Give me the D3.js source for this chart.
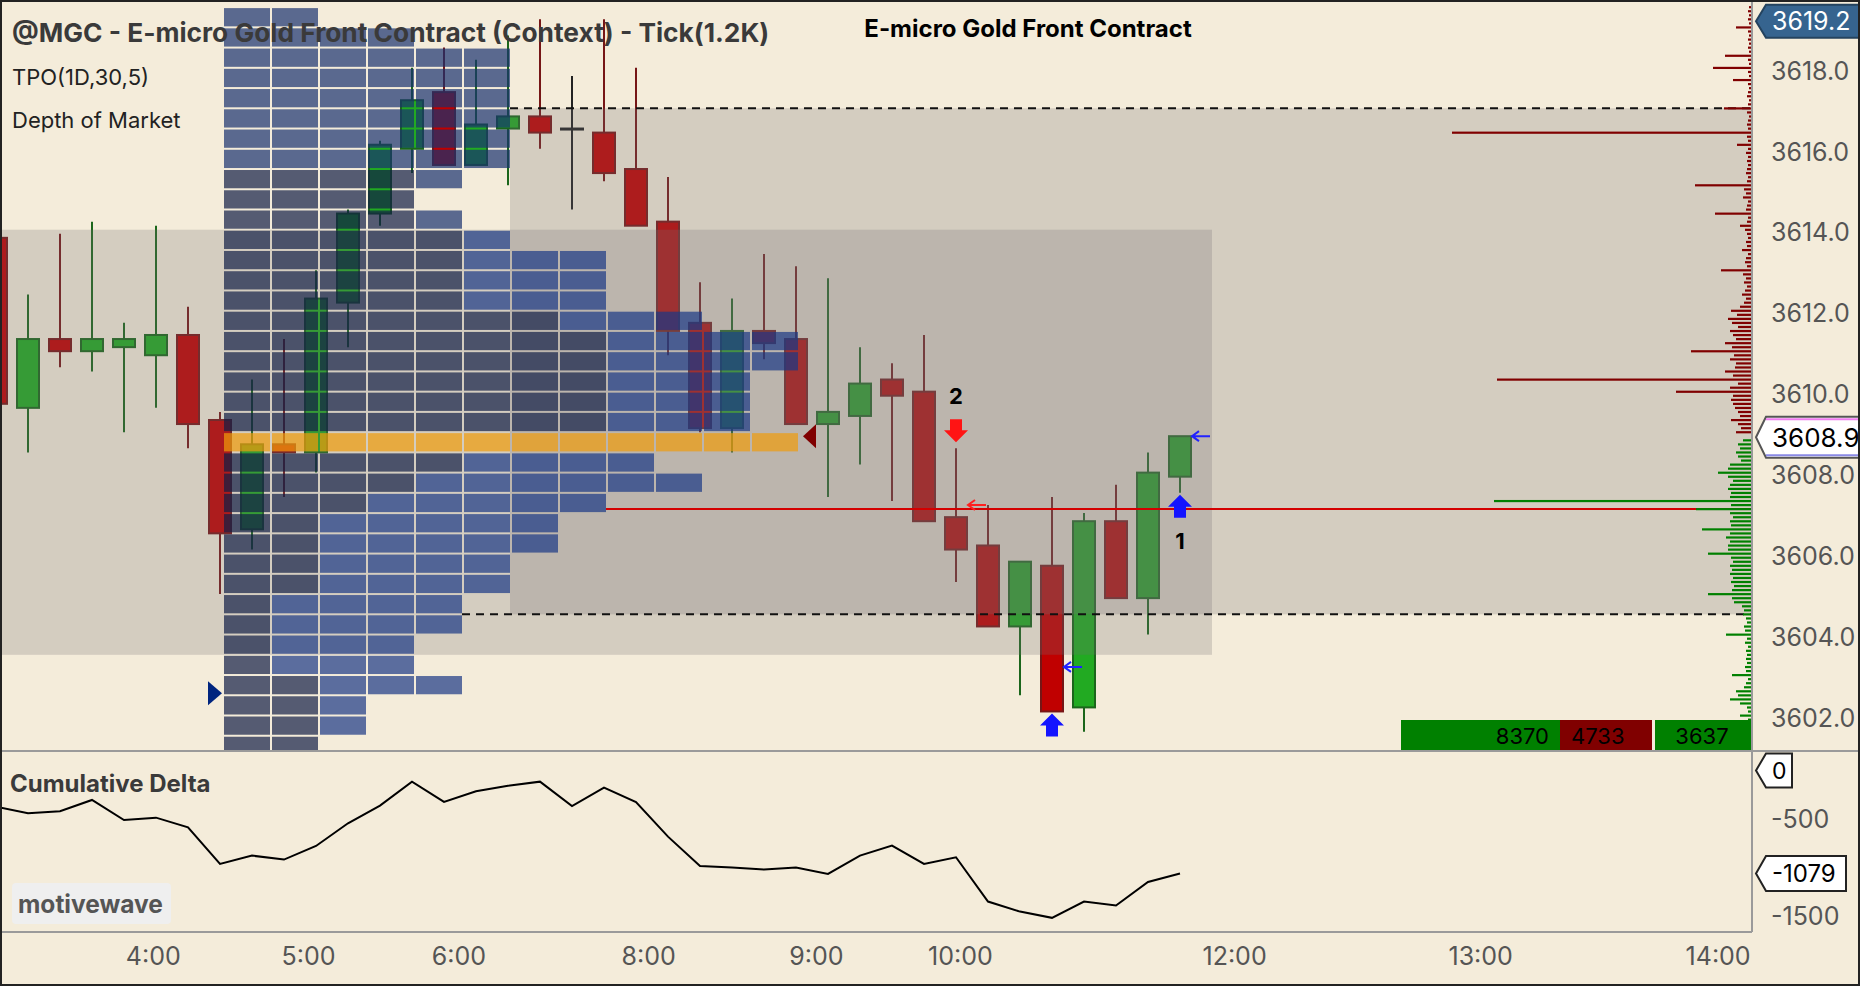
<!DOCTYPE html>
<html>
<head>
<meta charset="utf-8">
<script src="https://cdn.jsdelivr.net/npm/d3@7"></script>
<style>
  html, body { margin: 0; padding: 0; background: #f4ecda; overflow: hidden; }
  svg { display: block; font-family: Inter, "Noto Sans", sans-serif; }
</style>
</head>
<body>
<div id="chart"></div>
<script>
// ---- price bars (tick chart, 1.2K ticks per bar) ----
const opens  = [3613.8, 3609.6, 3611.3, 3611.0, 3611.1, 3610.9, 3611.4, 3609.3, 3606.6, 3608.7,
                3608.5, 3612.2, 3614.4, 3616.0, 3617.4, 3615.6, 3616.5, 3616.8, 3616.5, 3616.4,
                3615.5, 3614.2, 3611.7, 3609.1, 3611.5, 3611.3, 3609.2, 3609.4, 3610.3, 3610.0,
                3606.9, 3606.2, 3604.2, 3605.7, 3602.2, 3606.8, 3604.9, 3607.9];
const highs  = [3614.0, 3612.4, 3613.9, 3614.2, 3611.7, 3614.1, 3612.1, 3609.5, 3610.3, 3611.3,
                3613.0, 3614.5, 3616.2, 3618.0, 3618.5, 3618.2, 3618.8, 3619.2, 3617.8, 3619.2,
                3618.0, 3615.3, 3612.7, 3612.3, 3613.4, 3613.1, 3612.8, 3611.1, 3610.7, 3611.4,
                3608.6, 3607.2, 3605.8, 3607.4, 3607.0, 3607.7, 3608.5, 3608.9];
const lows   = [3609.4, 3608.5, 3610.6, 3610.5, 3609.0, 3609.6, 3608.6, 3605.0, 3606.1, 3607.4,
                3608.0, 3611.1, 3614.1, 3615.4, 3615.6, 3615.6, 3615.1, 3616.0, 3614.5, 3615.2,
                3614.1, 3610.9, 3609.0, 3608.5, 3610.8, 3609.2, 3607.4, 3608.2, 3607.3, 3606.8,
                3605.3, 3604.2, 3602.5, 3602.1, 3601.6, 3604.9, 3604.0, 3607.5];
const closes = [3609.7, 3611.3, 3611.0, 3611.3, 3611.3, 3611.4, 3609.2, 3606.5, 3608.7, 3608.5,
                3612.3, 3614.4, 3616.1, 3617.2, 3615.6, 3616.6, 3616.8, 3616.4, 3616.5, 3615.4,
                3614.1, 3611.5, 3609.1, 3611.5, 3611.2, 3609.2, 3609.5, 3610.2, 3609.9, 3606.8,
                3606.1, 3604.2, 3605.8, 3602.1, 3606.8, 3604.9, 3608.0, 3608.9];

// cumulative delta, one value per bar
const deltaValues = [-386, -455, -434, -316, -524, -500, -600, -980, -894, -935,
                     -794, -558, -375, -126, -337, -226, -168, -126, -379, -188,
                     -337, -697, -1001, -1018, -1039, -1018, -1084, -894, -790, -980,
                     -911, -1371, -1475, -1540, -1371, -1412, -1167, -1079];

// TPO(1D,30,5): one string per 0.5 row from the top, one letter per block
// e = early periods, o = overnight, d = day session, p = point of control
const tpoTop = 3619.5;
const tpoRows = [
  "ee", "eeee", "eeeeee", "eeeeee", "eeeeee", "eeeeee", "eeeeee", "eeeeee",
  "ooooe", "oooo", "ooooe", "oooood",
  "oooooddd", "oooooddd", "oooooddd", "oooooooddd",
  "oooooooodddd", "oooooooodddd", "ooooooooddd", "ooooooooddd", "ooooooooddd",
  "pppppppppppp",
  "ooooodddd", "oooodddddd", "oooddddd", "ooddddd", "ooddddd", "oodddd", "oodddd",
  "odddd", "odddd", "oddd", "oddd", "ooddd", "ood", "ood", "oo"
];

// value area / reference range / key level
const vaHigh = 3617.0, vaLow = 3604.5;
const refHigh = 3614.0, refLow = 3603.5;
const keyLevel = 3607.1;

// depth of market (sizes per 0.1 tick)
const askStart = 3609.0;
const askSizes = [16, 11, 14, 21, 12, 14, 17, 19, 21, 19,
                  76, 22, 14, 255, 19, 27, 17, 16, 22, 18,
                  61, 20, 27, 16, 19, 22, 14, 20, 24, 15,
                  21, 12, 8, 6, 10, 7, 5, 8, 6, 9,
                  31, 5, 7, 6, 4, 10, 5, 6, 4, 5,
                  7, 12, 5, 4, 37, 6, 5, 4, 9, 6,
                  8, 57, 5, 4, 6, 5, 4, 5, 4, 6,
                  4, 15, 4, 5, 300, 4, 5, 4, 3, 5,
                  28, 4, 3, 5, 4, 3, 4, 19, 3, 4,
                  39, 3, 4, 27, 3, 4, 3, 4, 3, 4,
                  16, 3, 4, 3, 4, 3];
const bidStart = 3608.8;
const bidSizes = [9, 14, 12, 16, 14, 11, 22, 24, 34, 24,
                  19, 22, 24, 21, 22, 258, 21, 56, 22, 19,
                  22, 21, 50, 22, 26, 22, 24, 24, 44, 21,
                  19, 22, 20, 22, 19, 21, 18, 20, 44, 20,
                  18, 10, 8, 9, 6, 5, 8, 7, 26, 5,
                  7, 4, 6, 5, 6, 5, 7, 6, 20, 4,
                  6, 8, 16, 14, 22, 12, 5, 4, 12, 4];
const domTotals = [8370, 4733, 3637];

// signals and fill marks
const signalBars = [30, 33, 37];
const signalTypes = ["sell", "buy", "buy"];
const signalLabels = ["2", "", "1"];
const fillBars = [30, 33, 37];
const fillPrices = [3607.2, 3603.2, 3608.9];
const fillColors = ["#ff2020", "#2222ff", "#2222ff"];

// axes
const priceTicks = [3602, 3604, 3606, 3608, 3610, 3612, 3614, 3616, 3618];
const deltaTicks = [-500, -1000, -1500];
const timeLabels = ["4:00", "5:00", "6:00", "8:00", "9:00", "10:00", "12:00", "13:00", "14:00"];
const timeBars = [4.9, 9.75, 14.45, 20.38, 25.62, 30.12, 38.69, 46.38, 53.8];

const lastPrice = 3608.9, sessionHigh = 3619.2;

// ---- layout ----
const W = 1860, H = 986;
const axisX = 1752;
const priceBottom = 751;
const deltaBottom = 932;
const cream = "#f4ecda";

const bars = d3.range(opens.length);
const x = d3.scaleLinear().domain([0, 55]).range([-4, 1756]);
const y = d3.scaleLinear().domain([vaHigh, vaLow]).range([108.3, 614.3]);
const yd = d3.scaleLinear().domain([0, -1500]).range([769.5, 914]);
const domLen = d3.scaleLinear().domain([0, 300]).range([0, 300]);

const tpoStartBar = 7.125, tpoColBars = 1.5, tpoTick = 0.5;
const tpoColors = {
  e: "rgb(24,50,111)", o: "rgb(17,30,70)", d: "rgb(25,56,132)", p: "rgb(240,155,10)"
};

const svg = d3.select("#chart").append("svg")
  .attr("width", W).attr("height", H);

svg.append("rect").attr("width", W).attr("height", H).attr("fill", cream);

const defs = svg.append("defs");
defs.append("clipPath").attr("id", "clipPrice")
  .append("rect").attr("width", axisX).attr("height", priceBottom);
defs.append("clipPath").attr("id", "clipDelta")
  .append("rect").attr("y", priceBottom).attr("width", axisX).attr("height", deltaBottom - priceBottom);

const price = svg.append("g").attr("clip-path", "url(#clipPrice)");

// tpo helpers
const tpoRowOf = p => Math.floor((tpoTop - p) / tpoTick);
const tpoEnd = p => x(tpoStartBar + tpoRows[tpoRowOf(p)].length * tpoColBars) - 2;

// candles
const candles = price.append("g");
bars.forEach(i => {
  const o = opens[i], c = closes[i];
  const flat = o === c, up = c > o;
  const fill = flat ? "#222" : up ? "#22aa22" : "#c00000";
  const edge = flat ? "#222" : up ? "#1b661b" : "#761616";
  candles.append("line")
    .attr("x1", x(i)).attr("x2", x(i))
    .attr("y1", y(highs[i])).attr("y2", y(lows[i]))
    .attr("stroke", edge).attr("stroke-width", 2);
  candles.append("rect")
    .attr("x", x(i) - 11).attr("width", 22)
    .attr("y", y(Math.max(o, c)))
    .attr("height", Math.max(1, Math.abs(y(o) - y(c))))
    .attr("fill", fill).attr("stroke", edge).attr("stroke-width", 2);
});

// shaded ranges (drawn over candles, semi transparent)
price.append("rect")
  .attr("x", x(-1)).attr("width", x(38) - x(-1))
  .attr("y", y(refHigh)).attr("height", y(refLow) - y(refHigh))
  .attr("fill", "rgb(116,112,114)").attr("fill-opacity", 0.25);
price.append("rect")
  .attr("x", tpoEnd(vaHigh)).attr("width", axisX - tpoEnd(vaHigh))
  .attr("y", y(vaHigh)).attr("height", y(vaLow) - y(vaHigh))
  .attr("fill", "rgb(116,112,114)").attr("fill-opacity", 0.25);

// tpo blocks
const tpo = price.append("g");
tpoRows.forEach((row, r) => {
  const top = tpoTop - r * tpoTick;
  row.split("").forEach((letter, k) => {
    tpo.append("rect")
      .attr("x", x(tpoStartBar + k * tpoColBars))
      .attr("width", x(tpoColBars) - x(0) - 2)
      .attr("y", y(top) + 1)
      .attr("height", y(top - tpoTick) - y(top) - 2)
      .attr("fill", tpoColors[letter])
      .attr("fill-opacity", 0.7);
  });
});

// tpo markers
const pocPrice = tpoTop - tpoRows.findIndex(r => r[0] === "p") * tpoTick - tpoTick / 2;
const tipL = tpoEnd(pocPrice) + 5, ty = y(lastPrice);
price.append("path")
  .attr("d", `M${tipL},${ty} L${tipL + 13},${ty - 12} L${tipL + 13},${ty + 12} Z`)
  .attr("fill", "#800000");
const tipR = x(tpoStartBar) - 2, ty2 = y(3602.55);
price.append("path")
  .attr("d", `M${tipR},${ty2} L${tipR - 14},${ty2 - 12} L${tipR - 14},${ty2 + 12} Z`)
  .attr("fill", "#00257f");

// value area lines
[vaHigh, vaLow].forEach(p => {
  price.append("line")
    .attr("x1", tpoEnd(p)).attr("x2", axisX)
    .attr("y1", y(p)).attr("y2", y(p))
    .attr("stroke", "#111").attr("stroke-width", 2)
    .attr("stroke-dasharray", "8,6");
});
price.append("line")
  .attr("x1", tpoEnd(keyLevel)).attr("x2", axisX)
  .attr("y1", y(keyLevel)).attr("y2", y(keyLevel))
  .attr("stroke", "#d40000").attr("stroke-width", 2);

// depth of market
const dom = price.append("g");
askSizes.forEach((s, i) => {
  const p = askStart + i * 0.1;
  dom.append("rect")
    .attr("x", axisX - domLen(s)).attr("width", domLen(s))
    .attr("y", y(p) - 1).attr("height", 2.2)
    .attr("fill", "#800000");
});
bidSizes.forEach((s, i) => {
  const p = bidStart - i * 0.1;
  dom.append("rect")
    .attr("x", axisX - domLen(s)).attr("width", domLen(s))
    .attr("y", y(p) - 1).attr("height", 2.2)
    .attr("fill", "#008000");
});

// dom totals
const totals = svg.append("g");
const totalBoxes = [
  { x0: 1401, x1: 1560, fill: "#008000", anchor: "end", tx: 1549 },
  { x0: 1560, x1: 1652, fill: "#800000", anchor: "start", tx: 1571 },
  { x0: 1655, x1: axisX, fill: "#008000", anchor: "middle", tx: 1702 }
];
totalBoxes.forEach((b, i) => {
  totals.append("rect").attr("x", b.x0).attr("width", b.x1 - b.x0)
    .attr("y", 720).attr("height", priceBottom - 720).attr("fill", b.fill);
  totals.append("text").attr("x", b.tx).attr("y", 744)
    .attr("text-anchor", b.anchor).attr("fill", "#000")
    .style("font-size", "22px")
    .text(domTotals[i]);
});

// signals
const sig = svg.append("g");
signalBars.forEach((b, i) => {
  const cx = x(b);
  if (signalTypes[i] === "sell") {
    const tip = y(highs[b]) - 6;
    sig.append("path")
      .attr("d", `M${cx},${tip} L${cx - 12},${tip - 12} L${cx - 6},${tip - 12} L${cx - 6},${tip - 23} L${cx + 6},${tip - 23} L${cx + 6},${tip - 12} L${cx + 12},${tip - 12} Z`)
      .attr("fill", "#ff1414");
    sig.append("text").attr("x", cx).attr("y", tip - 38)
      .attr("text-anchor", "middle").style("font-size", "22px").style("font-weight", 700)
      .attr("fill", "#000").text(signalLabels[i]);
  } else {
    const tip = y(lows[b]) + 2;
    sig.append("path")
      .attr("d", `M${cx},${tip} L${cx - 12},${tip + 12} L${cx - 6},${tip + 12} L${cx - 6},${tip + 23} L${cx + 6},${tip + 23} L${cx + 6},${tip + 12} L${cx + 12},${tip + 12} Z`)
      .attr("fill", "#1414ff");
    sig.append("text").attr("x", cx).attr("y", tip + 54)
      .attr("text-anchor", "middle").style("font-size", "22px").style("font-weight", 700)
      .attr("fill", "#000").text(signalLabels[i]);
  }
});
fillBars.forEach((b, i) => {
  const x0 = x(b) + 12, fy = y(fillPrices[i]);
  sig.append("path")
    .attr("d", `M${x0 + 18},${fy} L${x0},${fy} M${x0 + 7},${fy - 5} L${x0},${fy} L${x0 + 7},${fy + 5}`)
    .attr("fill", "none").attr("stroke", fillColors[i]).attr("stroke-width", 2);
});

// cumulative delta
const delta = svg.append("g").attr("clip-path", "url(#clipDelta)");
delta.append("path")
  .datum(deltaValues)
  .attr("d", d3.line().x((d, i) => x(i)).y(d => yd(d)))
  .attr("fill", "none").attr("stroke", "#000").attr("stroke-width", 2);

// panel frames
svg.append("line").attr("x1", 0).attr("x2", W).attr("y1", priceBottom).attr("y2", priceBottom)
  .attr("stroke", "#9a9a9a").attr("stroke-width", 2);
svg.append("line").attr("x1", 0).attr("x2", axisX).attr("y1", deltaBottom).attr("y2", deltaBottom)
  .attr("stroke", "#9a9a9a").attr("stroke-width", 2);
svg.append("line").attr("x1", axisX).attr("x2", axisX).attr("y1", 0).attr("y2", deltaBottom)
  .attr("stroke", "#9a9a9a").attr("stroke-width", 2);

// axes
const styleAxis = g => {
  g.select(".domain").remove();
  g.selectAll("text").attr("fill", "#555").style("font-size", "25px")
    .style("font-family", "Inter, 'Noto Sans', sans-serif");
};
svg.append("g").attr("transform", `translate(${axisX},0)`)
  .call(d3.axisRight(y).tickValues(priceTicks).tickFormat(d3.format(".1f")).tickSize(0).tickPadding(19))
  .call(styleAxis)
  .selectAll("text").attr("dy", "0.45em");
svg.append("g").attr("transform", `translate(${axisX},0)`)
  .call(d3.axisRight(yd).tickValues(deltaTicks).tickSize(0).tickPadding(19)
    .tickFormat(d => d3.format("d")(d).replace("\u2212", "-")))
  .call(styleAxis)
  .selectAll("text").attr("dy", "0.4em");
svg.append("g").attr("transform", `translate(0,${deltaBottom})`)
  .call(d3.axisBottom(x).tickValues(timeBars).tickFormat((d, i) => timeLabels[i]).tickSize(0).tickPadding(15))
  .call(styleAxis);

// right axis value flags
const flag = (cy, h, w, fill, stroke, txt, color, size) => {
  const g = svg.append("g");
  const top = cy - h / 2, bot = cy + h / 2;
  g.append("path")
    .attr("d", `M${axisX + 4},${cy} L${axisX + 14},${top} L${axisX + w},${top} L${axisX + w},${bot} L${axisX + 14},${bot} Z`)
    .attr("fill", fill).attr("stroke", stroke).attr("stroke-width", 2);
  g.append("text").attr("x", axisX + 20).attr("y", cy).attr("dy", "0.36em")
    .attr("fill", color).style("font-size", size + "px").text(txt);
  return g;
};
flag(y(sessionHigh) + 2, 33, 110, "#36648f", "#24435f", d3.format(".1f")(sessionHigh), "#fff", 25);
const lp = flag(y(lastPrice) + 1, 41, 110, "#fff", "#555", d3.format(".1f")(lastPrice), "#000", 26);
lp.append("line").attr("x1", axisX + 14).attr("x2", W).attr("y1", y(lastPrice) - 17).attr("y2", y(lastPrice) - 17)
  .attr("stroke", "#f07cf0").attr("stroke-width", 2);
lp.append("line").attr("x1", axisX + 14).attr("x2", W).attr("y1", y(lastPrice) + 19).attr("y2", y(lastPrice) + 19)
  .attr("stroke", "#8a8ae6").attr("stroke-width", 2);
flag(yd(0) + 1, 34, 40, "#fff", "#222", "0", "#000", 23);
flag(yd(deltaValues[deltaValues.length - 1]), 35, 94, "#fff", "#222",
  d3.format("d")(deltaValues[deltaValues.length - 1]).replace("\u2212", "-"), "#000", 24);

// titles
svg.append("text").attr("x", 12).attr("y", 42)
  .style("font-size", "26.3px").style("font-weight", 700).attr("fill", "#3a3a3a")
  .text("@MGC - E-micro Gold Front Contract (Context) - Tick(1.2K)");
svg.append("text").attr("x", 1028).attr("y", 37).attr("text-anchor", "middle")
  .style("font-size", "24px").style("font-weight", 700).attr("fill", "#000")
  .text("E-micro Gold Front Contract");
svg.append("text").attr("x", 12).attr("y", 85)
  .style("font-size", "22px").attr("fill", "#222").text("TPO(1D,30,5)");
svg.append("text").attr("x", 12).attr("y", 128)
  .style("font-size", "22px").attr("fill", "#222").text("Depth of Market");
svg.append("text").attr("x", 10).attr("y", 792)
  .style("font-size", "24px").style("font-weight", 700).attr("fill", "#3a3a3a").text("Cumulative Delta");

// watermark
svg.append("rect").attr("x", 12).attr("y", 883).attr("width", 159).attr("height", 41)
  .attr("rx", 4).attr("fill", "#efefef");
svg.append("text").attr("x", 18).attr("y", 913)
  .style("font-size", "24.5px").style("font-weight", 700).attr("fill", "#555").text("motivewave");

// outer frame
svg.append("rect").attr("x", 1).attr("y", 1).attr("width", W - 2).attr("height", H - 2)
  .attr("fill", "none").attr("stroke", "#222").attr("stroke-width", 2);
</script>
</body>
</html>
